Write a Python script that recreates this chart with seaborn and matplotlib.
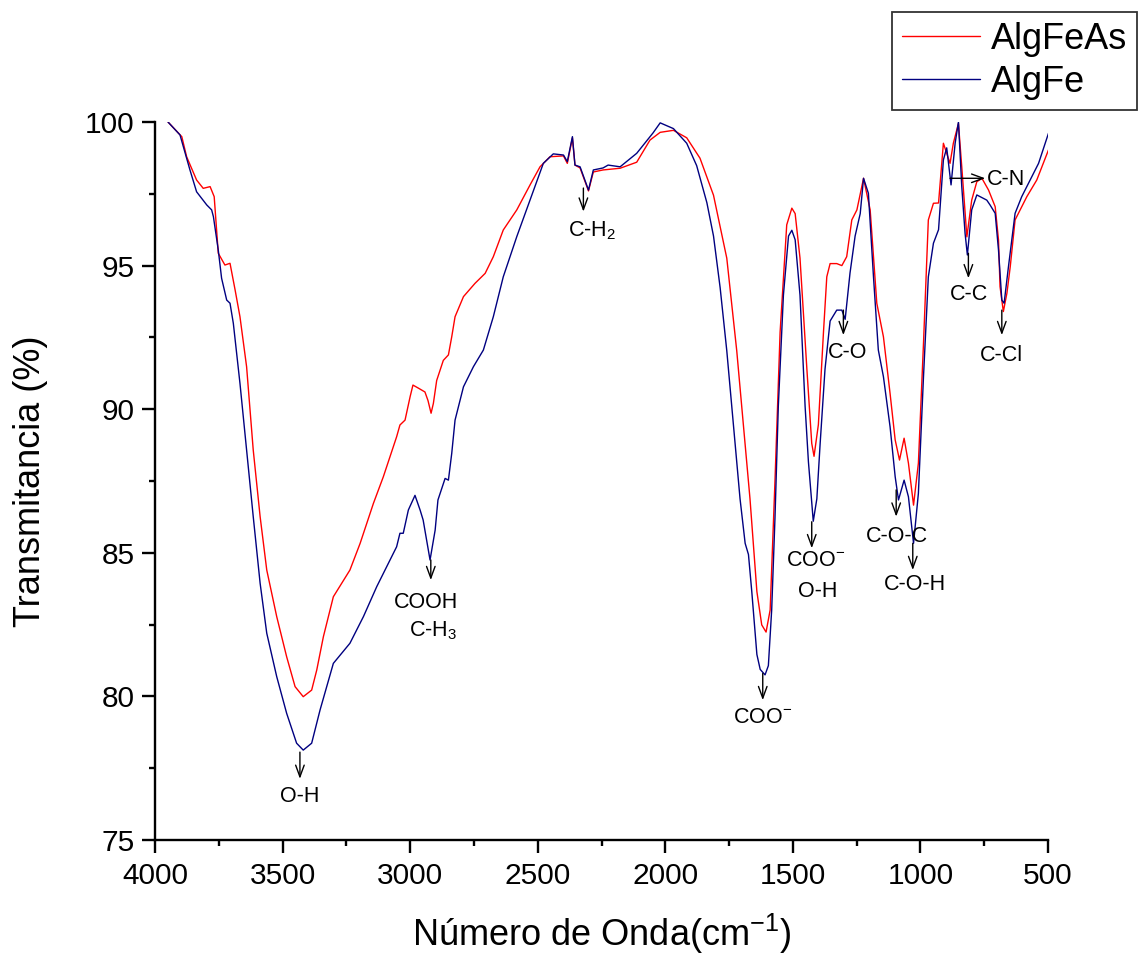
import matplotlib
matplotlib.use("Agg")
import matplotlib.pyplot as plt
from matplotlib.ticker import MultipleLocator
import numpy as np
import pandas as pd
import seaborn as sns

# ---------------- data ----------------
series_names = ["AlgFeAs", "AlgFe"]

algfeas_wn = [3949, 3895, 3876, 3837, 3811, 3784, 3768, 3752, 3726, 3706,
              3686, 3667, 3641, 3615, 3588, 3562, 3523, 3484, 3451, 3419,
              3386, 3366, 3340, 3301, 3236, 3196, 3144, 3105, 3053, 3040,
              3020, 3000, 2989, 2969, 2942, 2930, 2918, 2909, 2896, 2870,
              2850, 2837, 2824, 2791, 2746, 2706, 2674, 2635, 2582, 2530,
              2491, 2452, 2399, 2384, 2364, 2354, 2334, 2301, 2282, 2244,
              2177, 2112, 2060, 2020, 1968, 1916, 1864, 1811, 1759, 1720,
              1681, 1668, 1641, 1622, 1605, 1589, 1570, 1550, 1524, 1504,
              1491, 1472, 1445, 1426, 1417, 1400, 1380, 1367, 1354, 1328,
              1308, 1289, 1269, 1249, 1223, 1197, 1171, 1145, 1119, 1099,
              1082, 1064, 1047, 1027, 1008, 988, 969, 949, 929, 910,
              884, 871, 851, 838, 818, 799, 779, 759, 733, 707,
              694, 688, 675, 661, 648, 629, 609, 583, 544, 498]
algfeas_t = [100.0, 99.49, 98.79, 97.98, 97.69, 97.75, 97.4, 95.43, 95.02, 95.08,
             94.15, 93.22, 91.48, 88.58, 86.26, 84.4, 82.78, 81.38, 80.34, 79.99,
             80.22, 80.92, 82.08, 83.47, 84.4, 85.33, 86.72, 87.65, 89.04, 89.45,
             89.62, 90.44, 90.84, 90.74, 90.6, 90.3, 89.86, 90.2, 91.0, 91.7,
             91.89, 92.52, 93.22, 93.92, 94.38, 94.73, 95.31, 96.24, 96.94, 97.81,
             98.44, 98.79, 98.82, 98.56, 99.45, 98.5, 98.4, 97.6, 98.26, 98.33,
             98.39, 98.6, 99.37, 99.64, 99.71, 99.45, 98.74, 97.45, 95.26, 92.04,
             88.17, 86.88, 83.65, 82.49, 82.24, 83.01, 87.52, 92.68, 96.42, 97.0,
             96.81, 95.26, 91.39, 88.81, 88.36, 89.46, 92.68, 94.61, 95.07, 95.07,
             95.0, 95.31, 96.59, 96.94, 98.04, 96.94, 93.69, 92.52, 90.55, 88.93,
             88.23, 88.99, 88.12, 86.66, 88.12, 92.29, 96.59, 97.17, 97.18, 99.26,
             98.56, 99.26, 99.95, 98.44, 96.0, 97.28, 97.92, 98.04, 97.63, 97.05,
             95.89, 94.27, 93.4, 94.04, 94.96, 96.59, 96.94, 97.4, 97.98, 99.03]

algfe_wn = [3949, 3902, 3863, 3837, 3797, 3778, 3771, 3752, 3739, 3719,
            3706, 3693, 3667, 3641, 3615, 3588, 3562, 3523, 3484, 3445,
            3419, 3386, 3353, 3301, 3236, 3183, 3131, 3053, 3040, 3027,
            3007, 2981, 2961, 2949, 2922, 2902, 2891, 2863, 2850, 2837,
            2824, 2791, 2752, 2713, 2674, 2635, 2582, 2530, 2478, 2439,
            2399, 2384, 2364, 2354, 2334, 2301, 2282, 2244, 2224, 2177,
            2112, 2048, 2020, 1968, 1916, 1877, 1837, 1811, 1785, 1759,
            1733, 1707, 1687, 1674, 1661, 1641, 1628, 1609, 1596, 1583,
            1570, 1557, 1537, 1517, 1504, 1491, 1472, 1452, 1439, 1420,
            1406, 1393, 1374, 1354, 1328, 1308, 1295, 1276, 1256, 1236,
            1223, 1204, 1184, 1165, 1145, 1119, 1099, 1086, 1064, 1047,
            1027, 1008, 988, 969, 949, 929, 910, 897, 880, 864,
            851, 838, 825, 816, 799, 779, 740, 727, 707, 694,
            681, 672, 655, 629, 603, 570, 537, 498]
algfe_t = [100.0, 99.55, 98.33, 97.57, 97.11, 96.94, 96.7, 95.54, 94.56, 93.8,
           93.69, 92.99, 90.9, 88.58, 86.26, 83.94, 82.2, 80.69, 79.41, 78.37,
           78.13, 78.37, 79.53, 81.15, 81.85, 82.78, 83.82, 85.21, 85.68, 85.68,
           86.49, 87.0, 86.49, 86.14, 84.75, 85.79, 86.84, 87.59, 87.53, 88.46,
           89.62, 90.78, 91.48, 92.06, 93.22, 94.61, 96.01, 97.28, 98.56, 98.89,
           98.85, 98.62, 99.49, 98.5, 98.44, 97.63, 98.33, 98.4, 98.5, 98.44,
           98.91, 99.62, 99.97, 99.77, 99.26, 98.48, 97.19, 96.03, 94.23, 92.04,
           89.46, 86.88, 85.33, 84.94, 83.65, 81.46, 80.94, 80.75, 81.07, 83.01,
           86.23, 90.1, 93.97, 96.03, 96.23, 95.9, 93.97, 90.1, 88.17, 86.1,
           86.88, 88.81, 91.39, 93.07, 93.45, 93.45, 93.13, 94.74, 96.03, 96.81,
           98.04, 97.52, 94.61, 92.06, 91.13, 89.39, 87.65, 86.84, 87.53, 86.95,
           85.33, 87.07, 91.13, 94.61, 95.78, 96.25, 98.68, 99.1, 97.81, 99.26,
           100.0, 97.75, 96.12, 95.37, 96.94, 97.46, 97.28, 97.11, 96.82, 95.54,
           93.8, 93.69, 94.96, 96.82, 97.4, 97.98, 98.56, 99.61]

x_ticks = [4000, 3500, 3000, 2500, 2000, 1500, 1000, 500]
y_ticks = [75, 80, 85, 90, 95, 100]

# band annotations: label, wavenumber, arrow tail T, arrow head T, label baseline T
band_labels = ["O-H", "COOH", "C-H$_3$", "C-H$_2$", "COO$^{-}$", "COO$^{-}$", "O-H",
               "C-O", "C-O-C", "C-O-H", "C-C", "C-Cl"]
band_text_x = [3432, 2937, 2909, 2289, 1618, 1412, 1403, 1287, 1093, 1023, 808, 684]
band_text_y = [76.34, 83.08, 82.08, 96.0, 79.09, 84.53, 83.47, 91.77, 85.39, 83.7, 93.8, 91.69]
arrow_x = [3432, 2919, 2321, 1618, 1426, 1302, 1095, 1030, 812, 681]
arrow_tail = [78.06, 84.75, 97.70, 80.80, 86.08, 93.45, 87.19, 85.33, 95.43, 93.45]
arrow_head = [77.13, 84.05, 96.88, 79.87, 85.16, 92.58, 86.26, 84.40, 94.56, 92.58]
cn_label = "C-N"
cn_arrow = (884, 746, 98.04)   # from wn, to wn, T
cn_text = (739, 97.81)

# ---------------- plot ----------------
sns.set_style("ticks")
plt.rcParams["font.family"] = ["Liberation Sans", "DejaVu Sans"]
plt.rcParams["mathtext.default"] = "regular"
plt.rcParams["text.color"] = "black"
plt.rcParams["axes.labelcolor"] = "black"

df = pd.concat([
    pd.DataFrame({"wn": algfeas_wn, "T": algfeas_t, "Muestra": series_names[0]}),
    pd.DataFrame({"wn": algfe_wn, "T": algfe_t, "Muestra": series_names[1]}),
], ignore_index=True)

W, H = 1138, 958
fig = plt.figure(figsize=(W / 100, H / 100), dpi=100)
ax = fig.add_axes([155 / W, 118 / H, 893 / W, 718 / H])

sns.lineplot(data=df, x="wn", y="T", hue="Muestra", sort=False, estimator=None,
             palette={"AlgFeAs": "#ff0000", "AlgFe": "#000080"}, lw=1.0, ax=ax)

ax.set_xlim(4000, 500)
ax.set_ylim(75, 100)
ax.set_xticks(x_ticks)
ax.set_yticks(y_ticks)
ax.xaxis.set_minor_locator(MultipleLocator(250))
ax.yaxis.set_minor_locator(MultipleLocator(2.5))
for s in ["top", "right"]:
    ax.spines[s].set_visible(False)
for s in ["left", "bottom"]:
    ax.spines[s].set_linewidth(1.7)
    ax.spines[s].set_color("black")
ax.tick_params(which="major", length=9.5, width=1.7, labelsize=21.5, direction="out",
               color="black", labelcolor="black")
ax.tick_params(axis="x", which="major", pad=6)
ax.tick_params(axis="y", which="major", pad=5)
ax.tick_params(which="minor", length=4.5, width=1.7, direction="out", color="black")

ax.set_xlabel("Número de Onda(cm$^{-1}$)", fontsize=26, labelpad=16, color="black")
ax.set_ylabel("Transmitancia (%)", fontsize=26, labelpad=27, color="black")

# annotations
arrow_kw = dict(arrowstyle="->,head_length=0.6,head_width=0.22", color="black",
                lw=1.0, shrinkA=0, shrinkB=0)
for x, t0, t1 in zip(arrow_x, arrow_tail, arrow_head):
    ax.annotate("", xy=(x, t1), xytext=(x, t0), arrowprops=dict(arrow_kw, mutation_scale=14))
for lab, x, y in zip(band_labels, band_text_x, band_text_y):
    ax.text(x, y, lab, ha="center", va="baseline", fontsize=15.5, color="black")
ax.annotate("", xy=(cn_arrow[1], cn_arrow[2]), xytext=(cn_arrow[0], cn_arrow[2]),
            arrowprops=dict(arrow_kw, mutation_scale=14))
ax.text(cn_text[0], cn_text[1], cn_label, ha="left", va="baseline", fontsize=15.5)

# legend
handles, labels = ax.get_legend_handles_labels()
ax.get_legend().remove()
leg = fig.legend(handles, labels, loc="upper right",
                 bbox_to_anchor=(1137 / W, 1 - 12 / H), bbox_transform=fig.transFigure,
                 fontsize=26, frameon=True, fancybox=False, edgecolor="#333333",
                 framealpha=1, borderaxespad=0, handlelength=2.15, handletextpad=0.3,
                 labelspacing=0.22, borderpad=0.28)
leg.get_frame().set_linewidth(1.3)
for h in leg.get_lines():
    h.set_linewidth(1.0)
for t in leg.get_texts():
    t.set_color("black")

fig.savefig("out.png", dpi=100)
